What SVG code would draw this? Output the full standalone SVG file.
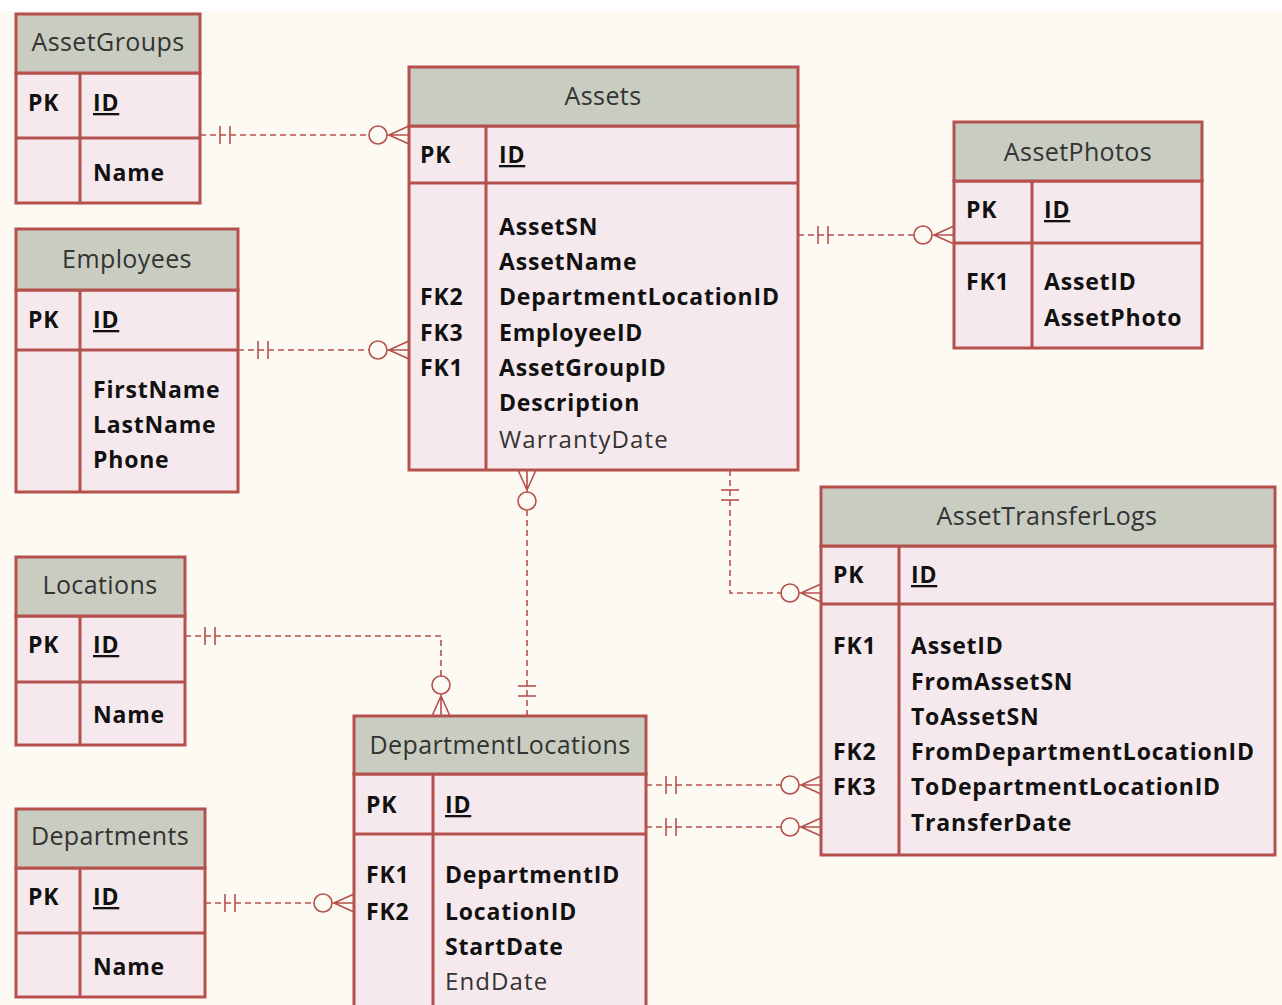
<svg xmlns="http://www.w3.org/2000/svg" xmlns:xlink="http://www.w3.org/1999/xlink" width="1282" height="1005" viewBox="0 0 1282 1005">
<style>
.bg{fill:#fdfaf4}
.body{fill:#f6e9ee;stroke:#b5504c;stroke-width:3}
.hdr{fill:#c9ccc0;stroke:#b5504c;stroke-width:3}
.ln{stroke:#b5504c;stroke-width:3;fill:none}
.t{font-family:"Open Sans","Noto Sans",sans-serif;font-size:25px;fill:#333;text-anchor:middle;letter-spacing:0.4px}
.f{font-family:"Open Sans","Noto Sans",sans-serif;font-size:23px;font-weight:bold;fill:#111;letter-spacing:0.8px}
.n{font-family:"Open Sans","Noto Sans",sans-serif;font-size:24px;fill:#333;letter-spacing:1.1px}
.u{text-decoration:underline}
.c{stroke:#b5504c;stroke-width:1.6;fill:none;stroke-dasharray:6 4}
.s{stroke:#b5504c;stroke-width:1.6;fill:none}
</style>
<defs>
<g id="mand"><line class="s" x1="20" y1="-9" x2="20" y2="9"/><line class="s" x1="30" y1="-9" x2="30" y2="9"/></g>
<g id="zmany"><circle class="s" cx="-31" cy="0" r="9"/><path class="s" d="M-20,0 L0,-9 M-20,0 L0,9 M-22,0 H0"/></g>
</defs>
<rect x="0" y="0" width="1282" height="1005" fill="#ffffff"/>
<rect class="bg" x="0" y="11" width="1282" height="994"/>

<g id="connectors">
<path class="c" d="M200,135 H369"/>
<use href="#mand" transform="translate(200,135)"/>
<use href="#zmany" transform="translate(409,135)"/>

<path class="c" d="M238,350 H369"/>
<use href="#mand" transform="translate(238,350)"/>
<use href="#zmany" transform="translate(409,350)"/>

<path class="c" d="M798,235 H914"/>
<use href="#mand" transform="translate(798,235)"/>
<use href="#zmany" transform="translate(954,235)"/>

<path class="c" d="M527,510 V716"/>
<use href="#zmany" transform="translate(527,470) rotate(-90)"/>
<use href="#mand" transform="translate(527,716) rotate(-90)"/>

<path class="c" d="M730,470 V593 H781"/>
<use href="#mand" transform="translate(730,470) rotate(90)"/>
<use href="#zmany" transform="translate(821,593)"/>

<path class="c" d="M185,636 H441 V676"/>
<use href="#mand" transform="translate(185,636)"/>
<use href="#zmany" transform="translate(441,716) rotate(90)"/>

<path class="c" d="M205,903 H314"/>
<use href="#mand" transform="translate(205,903)"/>
<use href="#zmany" transform="translate(354,903)"/>

<path class="c" d="M646,785 H781"/>
<use href="#mand" transform="translate(646,785)"/>
<use href="#zmany" transform="translate(821,785)"/>

<path class="c" d="M646,827 H781"/>
<use href="#mand" transform="translate(646,827)"/>
<use href="#zmany" transform="translate(821,827)"/>
</g>

<g id="AssetGroups">
<rect class="body" x="16" y="73" width="184" height="130"/>
<rect class="hdr" x="16" y="14" width="184" height="59"/>
<line class="ln" x1="16" y1="138" x2="200" y2="138"/>
<line class="ln" x1="80" y1="73" x2="80" y2="203"/>
<text class="t" x="108" y="51">AssetGroups</text>
<text class="f" x="28" y="111">PK</text>
<text class="f u" x="93" y="111">ID</text>
<text class="f" x="93" y="181">Name</text>
</g>

<g id="Employees">
<rect class="body" x="16" y="290" width="222" height="202"/>
<rect class="hdr" x="16" y="229" width="222" height="61"/>
<line class="ln" x1="16" y1="350" x2="238" y2="350"/>
<line class="ln" x1="80" y1="290" x2="80" y2="492"/>
<text class="t" x="127" y="268">Employees</text>
<text class="f" x="28" y="328">PK</text>
<text class="f u" x="93" y="328">ID</text>
<text class="f" x="93" y="398">FirstName</text>
<text class="f" x="93" y="433">LastName</text>
<text class="f" x="93" y="468">Phone</text>
</g>

<g id="Locations">
<rect class="body" x="16" y="616" width="169" height="129"/>
<rect class="hdr" x="16" y="557" width="169" height="59"/>
<line class="ln" x1="16" y1="682" x2="185" y2="682"/>
<line class="ln" x1="80" y1="616" x2="80" y2="745"/>
<text class="t" x="100" y="594">Locations</text>
<text class="f" x="28" y="653">PK</text>
<text class="f u" x="93" y="653">ID</text>
<text class="f" x="93" y="723">Name</text>
</g>

<g id="Departments">
<rect class="body" x="16" y="868" width="189" height="129"/>
<rect class="hdr" x="16" y="809" width="189" height="59"/>
<line class="ln" x1="16" y1="933" x2="205" y2="933"/>
<line class="ln" x1="80" y1="868" x2="80" y2="997"/>
<text class="t" x="110" y="845">Departments</text>
<text class="f" x="28" y="905">PK</text>
<text class="f u" x="93" y="905">ID</text>
<text class="f" x="93" y="975">Name</text>
</g>

<g id="Assets">
<rect class="body" x="409" y="126" width="389" height="344"/>
<rect class="hdr" x="409" y="67" width="389" height="59"/>
<line class="ln" x1="409" y1="183" x2="798" y2="183"/>
<line class="ln" x1="486" y1="126" x2="486" y2="470"/>
<text class="t" x="603" y="105">Assets</text>
<text class="f" x="420" y="163">PK</text>
<text class="f u" x="499" y="163">ID</text>
<text class="f" x="499" y="235">AssetSN</text>
<text class="f" x="499" y="270">AssetName</text>
<text class="f" x="420" y="305">FK2</text>
<text class="f" x="499" y="305">DepartmentLocationID</text>
<text class="f" x="420" y="341">FK3</text>
<text class="f" x="499" y="341">EmployeeID</text>
<text class="f" x="420" y="376">FK1</text>
<text class="f" x="499" y="376">AssetGroupID</text>
<text class="f" x="499" y="411">Description</text>
<text class="n" x="499" y="448">WarrantyDate</text>
</g>

<g id="AssetPhotos">
<rect class="body" x="954" y="181" width="248" height="167"/>
<rect class="hdr" x="954" y="122" width="248" height="59"/>
<line class="ln" x1="954" y1="243" x2="1202" y2="243"/>
<line class="ln" x1="1032" y1="181" x2="1032" y2="348"/>
<text class="t" x="1078" y="161">AssetPhotos</text>
<text class="f" x="966" y="218">PK</text>
<text class="f u" x="1044" y="218">ID</text>
<text class="f" x="966" y="290">FK1</text>
<text class="f" x="1044" y="290">AssetID</text>
<text class="f" x="1044" y="326">AssetPhoto</text>
</g>

<g id="AssetTransferLogs">
<rect class="body" x="821" y="546" width="454" height="309"/>
<rect class="hdr" x="821" y="487" width="454" height="59"/>
<line class="ln" x1="821" y1="604" x2="1275" y2="604"/>
<line class="ln" x1="899" y1="546" x2="899" y2="855"/>
<text class="t" x="1047" y="525">AssetTransferLogs</text>
<text class="f" x="833" y="583">PK</text>
<text class="f u" x="911" y="583">ID</text>
<text class="f" x="833" y="654">FK1</text>
<text class="f" x="911" y="654">AssetID</text>
<text class="f" x="911" y="690">FromAssetSN</text>
<text class="f" x="911" y="725">ToAssetSN</text>
<text class="f" x="833" y="760">FK2</text>
<text class="f" x="911" y="760">FromDepartmentLocationID</text>
<text class="f" x="833" y="795">FK3</text>
<text class="f" x="911" y="795">ToDepartmentLocationID</text>
<text class="f" x="911" y="831">TransferDate</text>
</g>

<g id="DepartmentLocations">
<rect class="body" x="354" y="774" width="292" height="240"/>
<rect class="hdr" x="354" y="716" width="292" height="58"/>
<line class="ln" x1="354" y1="834" x2="646" y2="834"/>
<line class="ln" x1="433" y1="774" x2="433" y2="1010"/>
<text class="t" x="500" y="754">DepartmentLocations</text>
<text class="f" x="366" y="813">PK</text>
<text class="f u" x="445" y="813">ID</text>
<text class="f" x="366" y="883">FK1</text>
<text class="f" x="445" y="883">DepartmentID</text>
<text class="f" x="366" y="920">FK2</text>
<text class="f" x="445" y="920">LocationID</text>
<text class="f" x="445" y="955">StartDate</text>
<text class="n" x="445" y="990">EndDate</text>
</g>
</svg>
